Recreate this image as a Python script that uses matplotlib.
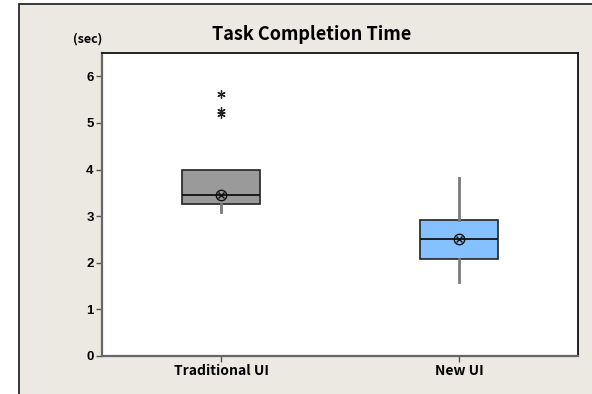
import matplotlib
matplotlib.use("Agg")
import matplotlib.pyplot as plt
from matplotlib.patches import Rectangle

plt.rcParams["font.family"] = ["Noto Sans CJK KR", "DejaVu Sans"]

# summary stats (seconds)
groups = ["Traditional UI", "New UI"]
q1 = [3.27, 2.09]
med = [3.46, 2.52]
q3 = [3.99, 2.91]
whislo = [3.08, 1.59]
whishi = [3.99, 3.81]
means = [3.46, 2.52]
fliers = [[5.62, 5.26, 5.20], []]
box_colors = ["#9a9a9a", "#85c0ff"]

fig = plt.figure(figsize=(5.92, 3.94), dpi=100, facecolor="white")
# beige panel with dark border on left/top
fig.patches.append(Rectangle((19 / 592, -0.1), 1.2, 1 - 4 / 394 + 0.1,
                             transform=fig.transFigure, facecolor="#ece8e2",
                             edgecolor="#2a2a2a", lw=1.3, zorder=-5))

ax = fig.add_axes([102 / 592, 1 - 356 / 394, 476 / 592, 303 / 394])
ax.set_facecolor("white")

stats = []
for i, g in enumerate(groups):
    stats.append(dict(label=g, q1=q1[i], med=med[i], q3=q3[i],
                      whislo=whislo[i], whishi=whishi[i], mean=means[i],
                      fliers=fliers[i]))

pos = [1, 2]
bp = ax.bxp(stats, positions=pos, widths=0.33, patch_artist=True,
            showcaps=False, showmeans=False,
            boxprops=dict(edgecolor="#222222", linewidth=1.2),
            medianprops=dict(color="#111111", linewidth=1.3),
            whiskerprops=dict(color="#7a7a7a", linewidth=2),
            flierprops=dict(marker=(6, 2, 0), markersize=6,
                            markeredgecolor="#222222", markeredgewidth=0.9))
for patch, c in zip(bp["boxes"], box_colors):
    patch.set_facecolor(c)

# Minitab style mean symbol: circle with an x inside
ax.plot(pos, means, linestyle="none", marker="o", markersize=7.5,
        markerfacecolor="none", markeredgecolor="#111111",
        markeredgewidth=1.0, zorder=4)
ax.plot(pos, means, linestyle="none", marker="x", markersize=4,
        markeredgecolor="#111111", markeredgewidth=1.0, zorder=4)

ax.set_xlim(0.5, 2.5)
ax.set_ylim(0, 6.5)
ax.set_yticks(range(0, 7))
ax.set_xticks(pos)
ax.set_xticklabels(groups)
for lab in ax.get_xticklabels():
    lab.set_fontweight("bold")
    lab.set_fontsize(10)
for lab in ax.get_yticklabels():
    lab.set_fontweight("bold")
    lab.set_fontsize(9.5)
    lab.set_family("Liberation Sans")
ax.tick_params(axis="both", direction="out", length=4, width=1,
               color="#555555", pad=2)

for s in ["top", "right"]:
    ax.spines[s].set_color("#111111")
    ax.spines[s].set_linewidth(1.3)
for s in ["left", "bottom"]:
    ax.spines[s].set_color("#666666")
    ax.spines[s].set_linewidth(1.6)

fig.text(312 / 592, 1 - 34 / 394, "Task Completion Time", ha="center",
         va="center", fontsize=13, fontweight="bold")
fig.text(88 / 592, 1 - 39 / 394, "(sec)", ha="center", va="center",
         fontsize=9, fontweight="bold")

fig.savefig("out.png", dpi=100)
